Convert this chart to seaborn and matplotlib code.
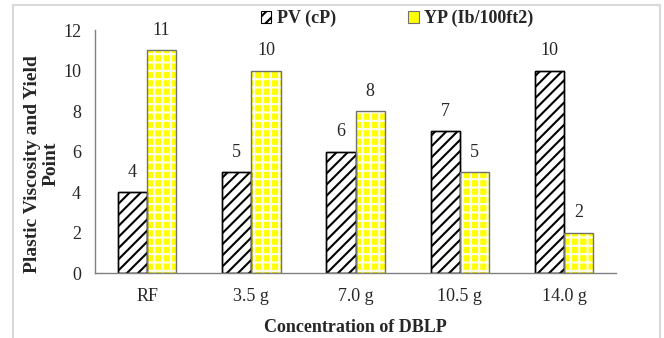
import pandas as pd
import seaborn as sns
import matplotlib.pyplot as plt
from matplotlib.patches import Rectangle

# chart data
concentrations = ["RF", "3.5 g", "7.0 g", "10.5 g", "14.0 g"]
pv_values = [4, 5, 6, 7, 10]
yp_values = [11, 10, 8, 5, 2]
series = ["PV (cP)", "YP (Ib/100ft2)"]

df = pd.DataFrame({
    "Concentration": concentrations * 2,
    "Value": pv_values + yp_values,
    "Parameter": [series[0]] * len(pv_values) + [series[1]] * len(yp_values),
})

sns.set_style("white")
plt.rcParams["font.family"] = ["Liberation Serif", "DejaVu Serif"]
plt.rcParams["hatch.linewidth"] = 1.5

fig = plt.figure(figsize=(6.64, 3.38), dpi=100)
ax = fig.add_axes([0.143, 0.192, 0.785, 0.719])

# filled bars with hatch patterns
sns.barplot(data=df, x="Concentration", y="Value", hue="Parameter",
            palette=["white", "#ffff00"], width=0.56, saturation=1,
            ax=ax, legend=False)
pv_bars, yp_bars = ax.containers[0], ax.containers[1]
for p in pv_bars:
    p.set_hatch("///")
    p.set_edgecolor("black")
    p.set_linewidth(1)
for p in yp_bars:
    p.set_hatch("++")
    p.set_edgecolor("#fffff0")
    p.set_linewidth(0)

# outlines on top
sns.barplot(data=df, x="Concentration", y="Value", hue="Parameter",
            palette=["black", "#707070"], width=0.56, saturation=1,
            fill=False, linewidth=1, ax=ax, legend=False)

for c in (pv_bars, yp_bars):
    ax.bar_label(c, padding=8, fontsize=13)

ax.set_ylim(0, 12)
ax.set_xlim(-0.5, 4.5)
ax.set_yticks(range(0, 13, 2))
ax.set_xticks(range(len(concentrations)))
ax.set_xticks([i - 0.5 for i in range(len(concentrations) + 1)], minor=True)
ax.tick_params(axis="x", which="major", length=0, pad=11, labelsize=13)
ax.tick_params(axis="x", which="minor", length=4, direction="out", color="#808080")
ax.tick_params(axis="y", length=4, direction="out", color="#808080", pad=6, labelsize=13)

sns.despine(ax=ax)
for s in ("left", "bottom"):
    ax.spines[s].set_color("#808080")
    ax.spines[s].set_linewidth(1)

ax.set_xlabel("Concentration of DBLP", fontweight="bold", fontsize=13, labelpad=10)
ax.set_ylabel("Plastic Viscosity and Yield\nPoint", fontweight="bold", fontsize=14,
              linespacing=1.15)
ax.yaxis.set_label_coords(-0.068, 0.45)

legend_handles = [
    Rectangle((0, 0), 1, 1, facecolor="white", edgecolor="black", hatch="///", linewidth=0.8),
    Rectangle((0, 0), 1, 1, facecolor="#ffff00", edgecolor="#707070", linewidth=0.8),
]
ax.legend(handles=legend_handles, labels=series, ncol=2, frameon=False,
          loc="center", bbox_to_anchor=(0.598, 0.945), bbox_transform=fig.transFigure,
          handlelength=0.6, handleheight=0.6, handletextpad=0.3, columnspacing=4,
          prop={"weight": "bold", "size": 13})

fig.add_artist(Rectangle((13 / 664, -0.1), (660 - 13) / 664, 1.085,
                         transform=fig.transFigure, fill=False,
                         edgecolor="#d9d9d9", linewidth=1.5))

fig.savefig("out.png", dpi=100)
